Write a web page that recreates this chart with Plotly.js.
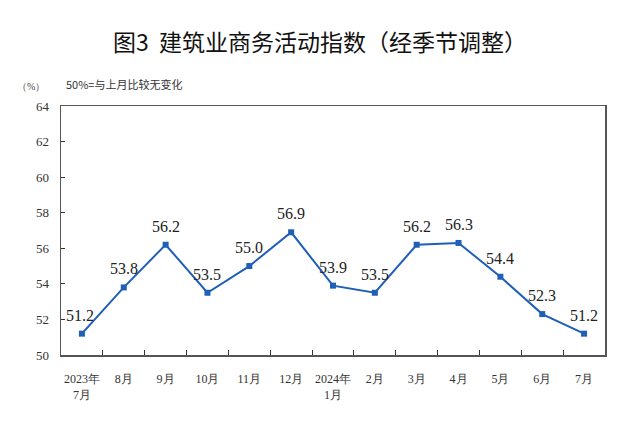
<!DOCTYPE html>
<html><head><meta charset="utf-8">
<script src="https://cdn.plot.ly/plotly-3.0.1.min.js"></script>
<style>html,body{margin:0;padding:0;background:#fff}#c{width:640px;height:426px}</style>
</head><body><div id="c"></div>
<script>
const categories = ["2023年<br>7月","8月","9月","10月","11月","12月","2024年<br>1月","2月","3月","4月","5月","6月","7月"];
const values = [51.2,53.8,56.2,53.5,55.0,56.9,53.9,53.5,56.2,56.3,54.4,52.3,51.2];
const yTicks = [50,52,54,56,58,60,62,64];
const serif = "'Times New Roman', 'Liberation Serif', 'DejaVu Serif', serif";
const trace = {
  x: categories, y: values, type: "scatter", mode: "lines+markers",
  line: {color: "#1f5fb8", width: 2},
  marker: {symbol: "square", size: 6, color: "#1f5fb8"},
  cliponaxis: false, hoverinfo: "none"
};
const labelAnns = categories.map((c, i) => ({
  x: c, y: values[i], xref: "x", yref: "y", text: values[i].toFixed(1), showarrow: false,
  yanchor: "bottom", yshift: 8, xshift: i === 0 ? -2 : 0,
  font: {family: serif, size: 16, color: "#222"}
}));
const layout = {
  width: 640, height: 426,
  margin: {l: 61, r: 35, t: 106, b: 71},
  paper_bgcolor: "#fff", plot_bgcolor: "#fff",
  showlegend: false,
  title: {text: "图3  建筑业商务活动指数（经季节调整）", x: 0.5, xanchor: "center", y: 0.9, yanchor: "middle",
    font: {family: "Noto Sans CJK SC", size: 23, color: "#111"}},
  xaxis: {type: "category", showline: true, linecolor: "#555", linewidth: 1.5, mirror: true,
    ticks: "inside", tickson: "boundaries", ticklen: 5, tickcolor: "#333", tickangle: 0,
    ticklabelstandoff: 12,
    tickfont: {family: serif, size: 12, color: "#333"}, showgrid: false, zeroline: false,
    range: [-0.5, 12.5]},
  yaxis: {range: [50, 64], tickvals: yTicks, showline: true, linecolor: "#555", linewidth: 1.5, mirror: true,
    ticks: "inside", ticklen: 4, tickcolor: "#333", showgrid: false, zeroline: false,
    ticklabelstandoff: 8,
    tickfont: {family: serif, size: 13, color: "#333"}},
  annotations: labelAnns.concat([
    {text: "（%）", xref: "paper", yref: "paper", x: -0.085, y: 1.05, xanchor: "left", yanchor: "bottom", showarrow: false,
     font: {family: serif, size: 10, color: "#444"}},
    {text: "50%=与上月比较无变化", xref: "paper", yref: "paper", x: 0.005, y: 1.05, xanchor: "left", yanchor: "bottom", showarrow: false,
     font: {family: "Noto Sans CJK SC", size: 11, color: "#333"}}
  ])
};
Plotly.newPlot("c", [trace], layout, {staticPlot: true});
</script></body></html>
